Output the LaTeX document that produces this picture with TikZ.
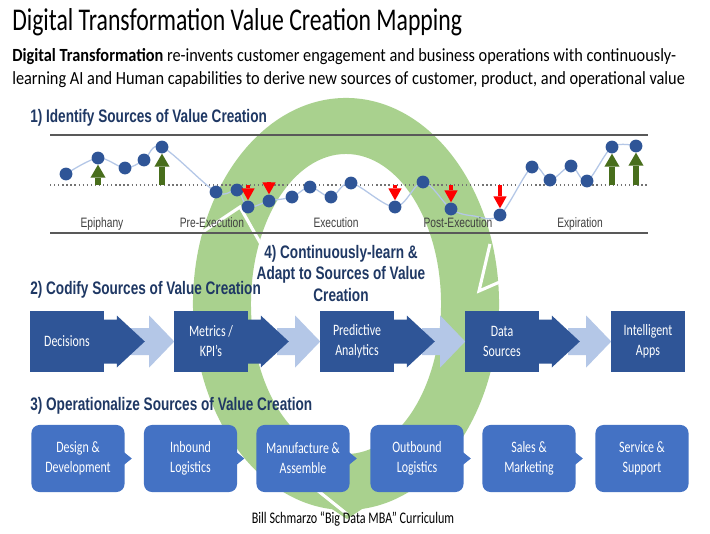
\documentclass[tikz,border=0pt]{standalone}
\usepackage{fontspec}
\setmainfont{Carlito}[FakeStretch=0.75]
\newfontfamily\subfont{Carlito}[FakeStretch=0.88]
\newfontfamily\headfont{Liberation Sans}[FakeStretch=0.75]
\usepackage{tikz}
\usetikzlibrary{arrows.meta,positioning}
\definecolor{navy}{RGB}{47,85,151}
\definecolor{midblue}{RGB}{68,114,196}
\definecolor{paleblue}{RGB}{180,199,231}
\definecolor{headblue}{RGB}{31,56,100}
\definecolor{ringgreen}{RGB}{169,209,142}
\definecolor{upgreen}{RGB}{72,110,28}
\tikzset{
  subline/.style={anchor=base west, inner sep=0pt, font=\subfont\fontsize{13.2}{16}\selectfont},
  heading/.style={anchor=base west, inner sep=0pt, text=headblue, font=\headfont\bfseries\fontsize{12.9}{15.6}\selectfont},
  phase/.style={anchor=base, inner sep=0pt, text=black!75, font=\headfont\fontsize{9.7}{11}\selectfont},
  rule/.style={draw=black!65, line width=0.8pt},
  midline/.style={draw=black!55, dotted, line width=0.9pt},
  trend/.style={draw=paleblue, line width=0.9pt},
  dot/.style={circle, fill=navy, minimum size=3.2mm, inner sep=0pt},
  rise/.style={upgreen, line width=4.6pt, -{Triangle[width=10.7pt,length=9.2pt,line width=0pt]}},
  fall/.style={red, line width=3.2pt, -{Triangle[width=9.5pt,length=8.5pt,line width=0pt]}},
  gap/.style={white, line width=2.2pt},
  stagebox/.style={fill=navy, text=white, align=center, minimum width=1.825cm, minimum height=1.525cm, inner sep=1pt, font=\fontsize{11.3}{14.2}\selectfont},
  procbox/.style={fill=midblue, text=white, align=center, rounded corners=2mm, minimum width=2.325cm, minimum height=1.675cm, inner sep=1pt, font=\fontsize{11.3}{14.2}\selectfont}
}
\begin{document}
\begin{tikzpicture}[x=0.025cm, y=-0.025cm]
  \path[use as bounding box, fill=white] (0,0) rectangle (710,533);
  \fill[ringgreen, even odd rule] (346,304) ellipse [x radius=3.825cm, y radius=5.15cm]
        (346,304) ellipse [x radius=2.375cm, y radius=3.75cm];
  \fill[ringgreen] (326,505) -- (347,519) -- (368,505) -- cycle;
  \draw[gap] (490,244) -- (479,291) -- (502,281);
  \draw[gap] (262,246) -- (240,207) -- (198,235);
  \draw[gap] (317,490) -- (347,514);

  \node[anchor=base west, inner sep=0pt, font=\fontsize{22.5}{26}\selectfont] (title) at (12,30) {Digital Transformation Value Creation Mapping};
  \node[subline] (sub1) at (12,61) {\textbf{Digital Transformation} re-invents customer engagement and business operations with continuously-};
  \node[subline] (sub2) at (12,84) {learning AI and Human capabilities to derive new sources of customer, product, and operational value};

  \node[heading] (head1) at (30,122) {1) Identify Sources of Value Creation};
  \node[heading] (head2) at (30,294) {2) Codify Sources of Value Creation};
  \node[heading] (head3) at (30,410) {3) Operationalize Sources of Value Creation};
  \node[heading, anchor=center, align=center] (head4) at (341,273.5) {4) Continuously-learn \&\\Adapt to Sources of Value\\Creation};

  \coordinate (base) at (50,185);
  \draw[rule] (50,135) -- (648,135);
  \draw[rule] (50,233) -- (648,233);
  \draw[midline] (base) -- (648,185);
  \foreach \x/\y [count=\i] in {66/174,98/158,125/168,144/160,162/147,216/192,237/190,248/207,
      269/201,292/197,310/187,331/197,351/183,395/207,423/182,451/209,500/215,532/167,
      550/180,571/166,587/181,612/147,636/146}
    \coordinate (p\i) at (\x,\y);
  \coordinate (k1) at (474,216);
  \draw[trend] plot[smooth, tension=0.55] coordinates {(p1) (p2) (p3) (p4) (p5) (p6) (p7) (p8)
      (p9) (p10) (p11) (p12) (p13) (p14) (p15) (p16) (k1) (p17) (p18) (p19) (p20) (p21) (p22) (p23)};
  \foreach \i in {1,...,23}
    \node[dot] (d\i) at (p\i) {};
  \foreach \i in {2,5,22,23}
    \draw[rise] (d\i |- base) -- (d\i.south);
  \foreach \i in {8,9,14,16,17}
    \draw[fall] (d\i |- base) -- (d\i.north);
  \node[phase] (epi) at (102,227) {Epiphany};
  \node[phase] (pre) at (212,227) {Pre-Execution};
  \node[phase] (exe) at (336,227) {Execution};
  \node[phase] (post) at (458,227) {Post-Execution};
  \node[phase] (expi) at (580,227) {Expiration};

  \node[stagebox] (dec) at (67,341.5) {Decisions};
  \node[stagebox] (met) at (211,341.5) {Metrics /\\KPI’s};
  \node[stagebox] (pred) at (357,341.5) {Predictive\\Analytics};
  \node[stagebox] (data) at (502,341.5) {Data\\Sources};
  \node[stagebox] (apps) at (648,341.5) {Intelligent\\Apps};
  \foreach \a/\b in {dec/met,met/pred,pred/data,data/apps}{
    \fill[paleblue] (\b.west) -- ++(-25,-26) -- ++(0,12.5) -- ++(-18,0) -- ++(0,27)
        -- ++(18,0) -- ++(0,12.5) -- cycle;
    \fill[navy] (\a.east) ++(0,-22) -- ++(13,0) -- ++(0,-4) -- ++(28,26) -- ++(-28,26)
        -- ++(0,-4) -- ++(-13,0) -- cycle;
  }

  \node[procbox] (design) at (78,458.5) {Design \&\\Development};
  \node[procbox] (inbound) at (190.5,458.5) {Inbound\\Logistics};
  \node[procbox] (manu) at (303,458.5) {Manufacture \&\\Assemble};
  \node[procbox] (outbound) at (417,458.5) {Outbound\\Logistics};
  \node[procbox] (sales) at (529,458.5) {Sales \&\\Marketing};
  \node[procbox] (service) at (642,458.5) {Service \&\\Support};
  \foreach \a in {design,inbound,manu,outbound,sales}
    \fill[midblue] (\a.east) ++(-1,-6.5) -- ++(8,6.5) -- ++(-8,6.5) -- cycle;

  \node[anchor=base, inner sep=0pt, font=\fontsize{11.5}{13}\selectfont] (credit) at (353,523) {Bill Schmarzo “Big Data MBA” Curriculum};
\end{tikzpicture}
\end{document}
